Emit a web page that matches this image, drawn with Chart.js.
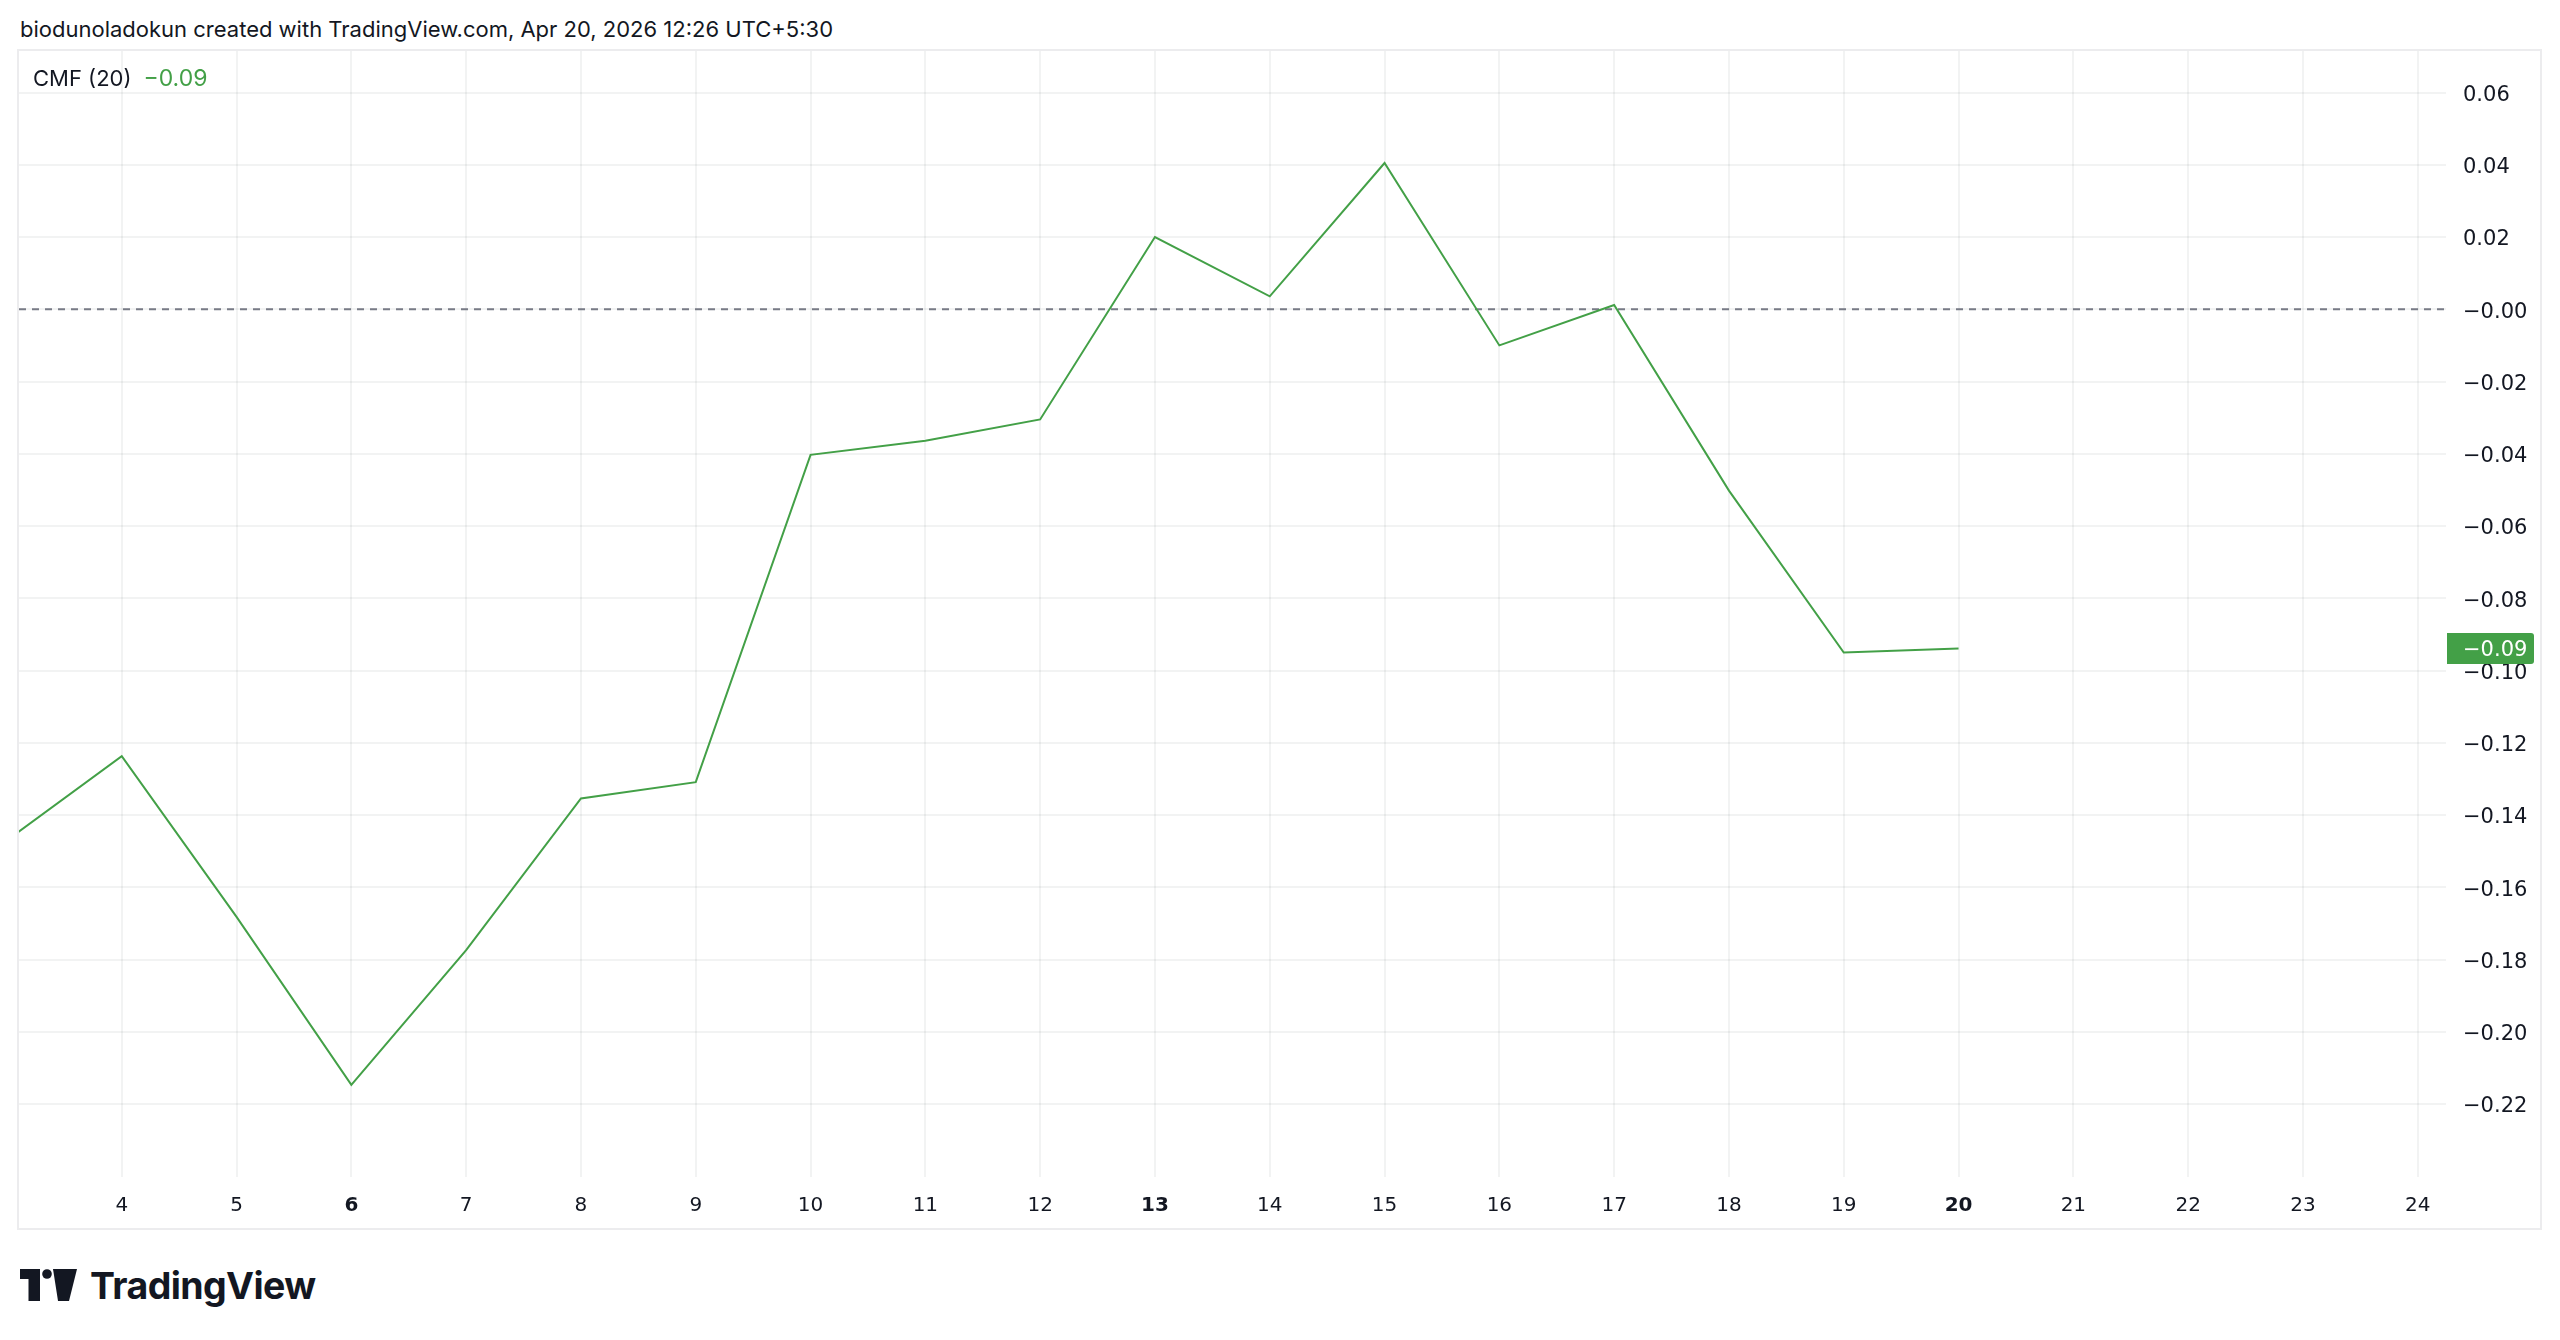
<!DOCTYPE html>
<html>
<head>
<meta charset="utf-8">
<script src="https://cdn.jsdelivr.net/npm/chart.js@4.4.1/dist/chart.umd.min.js"></script>
<style>
  html, body { margin: 0; padding: 0; background: #ffffff; }
  body { width: 2560px; height: 1340px; position: relative; overflow: hidden; font-family: Inter, Roboto, sans-serif; color: #131722; }
  .title { position: absolute; left: 20px; top: 15px; font-size: 22px; line-height: 28px; white-space: nowrap; }
  .frame { position: absolute; left: 19px; top: 51px; width: 2521px; height: 1177px; outline: 2px solid #ececee; }
  .legend { position: absolute; left: 33px; top: 64px; font-size: 22px; line-height: 28px; white-space: nowrap; }
  .legend .val { color: #43a047; margin-left: 12px; font-size: 23px; }
  .logo { position: absolute; left: 20px; top: 1266px; height: 38px; display: flex; align-items: center; }
  .logo span { font-weight: 700; font-size: 37.5px; letter-spacing: -0.6px; margin-left: 13px; color: #131722; }
</style>
</head>
<body>
<div class="title">biodunoladokun created with TradingView.com, Apr 20, 2026 12:26 UTC+5:30</div>
<div class="frame"><canvas id="chart"></canvas></div>
<div class="legend">CMF (20)<span class="val">−0.09</span></div>
<div class="logo">
  <svg width="57" height="32" viewBox="0 0 57 32">
    <rect x="0" y="0" width="20" height="10" fill="#131722"/>
    <rect x="8.5" y="0" width="11.5" height="32" fill="#131722"/>
    <circle cx="27" cy="5" r="4.8" fill="#131722"/>
    <polygon points="33,0 57,0 49,32 38,32" fill="#131722"/>
  </svg>
  <span>TradingView</span>
</div>
<script>
// CMF (20) daily readings
const days = [3, 4, 5, 6, 7, 8, 9, 10, 11, 12, 13, 14, 15, 16, 17, 18, 19, 20];
const cmfValues = [-0.147, -0.1237, -0.1682, -0.2147, -0.1774, -0.1354, -0.1309, -0.0403, -0.0364, -0.0305,
  0.0200, 0.0036, 0.0405, -0.0100, 0.0012, -0.0502, -0.0950, -0.0939];

const dayTicks = [4, 5, 6, 7, 8, 9, 10, 11, 12, 13, 14, 15, 16, 17, 18, 19, 20, 21, 22, 23, 24];
const boldDays = [6, 13, 20];
const yTicks = [0.06, 0.04, 0.02, 0, -0.02, -0.04, -0.06, -0.08, -0.10, -0.12, -0.14, -0.16, -0.18, -0.20, -0.22];
const zeroLevel = 0;

const X_MIN = 3.105, X_MAX = 24.246;
const Y_MIN = -0.2402, Y_MAX = 0.0715;
const GREEN = '#43a047';

function fmt(v) {
  if (Math.abs(v) < 1e-9) return '−0.00';
  return (v < 0 ? '−' : '') + Math.abs(v).toFixed(2);
}

const lastValueTag = {
  id: 'lastValueTag',
  afterDatasetsDraw(chart) {
    const ys = chart.scales.y;
    const last = cmfValues[cmfValues.length - 1];
    const y = ys.getPixelForValue(last);
    const ctx = chart.ctx;
    const x0 = chart.chartArea.right + 1;
    const w = 87, h = 31;
    ctx.save();
    ctx.fillStyle = GREEN;
    ctx.beginPath();
    ctx.roundRect(x0, Math.round(y - h / 2), w, h, [0, 3, 3, 0]);
    ctx.fill();
    ctx.fillStyle = '#ffffff';
    ctx.font = '21px "DejaVu Sans"';
    ctx.textBaseline = 'middle';
    ctx.textAlign = 'left';
    ctx.fillText(fmt(last), chart.chartArea.right + 17, y + 2);
    ctx.restore();
  }
};

new Chart(document.getElementById('chart'), {
  type: 'line',
  data: {
    datasets: [
      {
        data: days.map((d, i) => ({ x: d, y: cmfValues[i] })),
        borderColor: GREEN,
        borderWidth: 2,
        pointRadius: 0,
        tension: 0,
        fill: false,
      },
      {
        data: [{ x: X_MIN, y: zeroLevel }, { x: X_MAX, y: zeroLevel }],
        borderColor: '#787b86',
        borderWidth: 2,
        borderDash: [7, 6],
        pointRadius: 0,
        fill: false,
      },
    ],
  },
  options: {
    responsive: true,
    maintainAspectRatio: false,
    animation: false,
    layout: { padding: 0 },
    plugins: { legend: { display: false }, tooltip: { enabled: false } },
    scales: {
      x: {
        type: 'linear',
        min: X_MIN,
        max: X_MAX,
        afterBuildTicks: axis => { axis.ticks = dayTicks.map(v => ({ value: v })); },
        afterFit: axis => { axis.height = 51; axis.paddingLeft = 0; axis.paddingRight = 0; },
        border: { display: false },
        grid: { color: 'rgba(42,46,57,0.06)', lineWidth: 2, drawTicks: false },
        ticks: {
          padding: 17,
          maxRotation: 0,
          autoSkip: false,
          color: '#131722',
          font: ctx => ({ family: '"DejaVu Sans"', size: 20, weight: boldDays.includes(ctx.tick && ctx.tick.value) ? 'bold' : 'normal' }),
          callback: v => String(v),
        },
      },
      y: {
        type: 'linear',
        position: 'right',
        min: Y_MIN,
        max: Y_MAX,
        afterBuildTicks: axis => { axis.ticks = yTicks.map(v => ({ value: v })); },
        afterFit: axis => { axis.width = 94; axis.paddingTop = 0; axis.paddingBottom = 0; },
        border: { display: false },
        grid: { color: 'rgba(42,46,57,0.06)', lineWidth: 2, drawTicks: false },
        ticks: {
          padding: 17,
          labelOffset: 3,
          color: '#131722',
          font: { family: '"DejaVu Sans"', size: 21 },
          callback: v => fmt(v),
        },
      },
    },
  },
  plugins: [lastValueTag],
});
</script>
</body>
</html>
